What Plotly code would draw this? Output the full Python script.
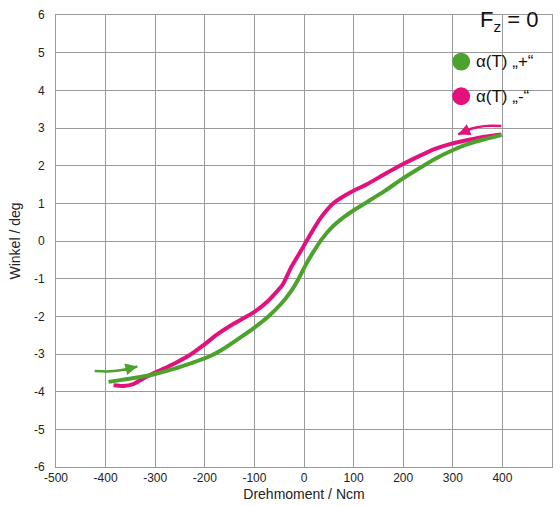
import plotly.graph_objects as go

# Torque (Ncm) vs. angle (deg) for the two loading directions
plus_torque = [-394, -364, -330, -300, -261, -227, -190, -162, -128, -100, -73, -47,
               -26, -10, 4, 17, 36, 56, 81, 102, 129, 163, 196, 230, 263, 296, 330, 364, 398]
plus_angle = [-3.74, -3.68, -3.61, -3.53, -3.39, -3.24, -3.06, -2.86, -2.56, -2.30, -2.02, -1.68,
              -1.33, -0.98, -0.62, -0.33, 0.05, 0.36, 0.64, 0.83, 1.05, 1.33, 1.63, 1.91, 2.17, 2.39, 2.57, 2.70, 2.81]

minus_torque = [-384, -364, -343, -323, -295, -261, -227, -200, -175, -141, -100, -73, -43,
                -36, -26, -13, 0, 14, 34, 61, 95, 129, 163, 196, 230, 263, 296, 330, 364, 398]
minus_angle = [-3.83, -3.85, -3.79, -3.64, -3.46, -3.25, -3.00, -2.74, -2.48, -2.19, -1.88, -1.60, -1.16,
               -0.98, -0.70, -0.41, -0.12, 0.20, 0.62, 1.02, 1.30, 1.52, 1.78, 2.02, 2.24, 2.44, 2.58, 2.68, 2.77, 2.83]

# Direction arrows
plus_arrow_torque = [-422, -391, -364, -336]
plus_arrow_angle = [-3.45, -3.46, -3.42, -3.33]
minus_arrow_torque = [398, 364, 337, 311]
minus_arrow_angle = [3.05, 3.05, 2.98, 2.83]

x_ticks = [-500, -400, -300, -200, -100, 0, 100, 200, 300, 400, 500]
y_ticks = [-6, -5, -4, -3, -2, -1, 0, 1, 2, 3, 4, 5, 6]

GREEN = "#4ca22c"
MAGENTA = "#e3117c"
FONT = "Liberation Sans, Arial, sans-serif"

W, H = 560, 506
L, R, T, B = 56, 7, 15, 35
pw, ph = W - L - R, H - T - B


def px(xp):
    return (xp - L) / pw


def py(yp):
    return (H - B - yp) / ph


fig = go.Figure()

fig.add_trace(go.Scatter(x=minus_torque, y=minus_angle, mode="lines",
                         line=dict(color=MAGENTA, width=4, shape="spline", smoothing=0.6),
                         showlegend=False, hoverinfo="skip"))
fig.add_trace(go.Scatter(x=plus_torque, y=plus_angle, mode="lines",
                         line=dict(color=GREEN, width=4, shape="spline", smoothing=0.6),
                         showlegend=False, hoverinfo="skip"))

# direction arrows: curved shaft plus a swept head on the last segment
for xs, ys, col in [(plus_arrow_torque, plus_arrow_angle, GREEN),
                    (minus_arrow_torque, minus_arrow_angle, MAGENTA)]:
    fig.add_trace(go.Scatter(x=xs, y=ys, mode="lines",
                             line=dict(color=col, width=2.5, shape="spline"),
                             showlegend=False, hoverinfo="skip"))
    fig.add_annotation(x=xs[-1], y=ys[-1], ax=xs[-2], ay=ys[-2],
                       xref="x", yref="y", axref="x", ayref="y",
                       showarrow=True, arrowhead=2, arrowsize=0.95, arrowwidth=2.5,
                       arrowcolor=col, text="")

# legend block
fig.add_annotation(x=px(541), y=py(21), xref="paper", yref="paper",
                   xanchor="right", yanchor="middle", showarrow=False,
                   text="F<sub>z</sub> = 0", font=dict(family=FONT, size=22, color="#111"))
for yc, col, label in [(62, GREEN, "α(T) „+“"), (97, MAGENTA, "α(T) „-“")]:
    r = 9
    fig.add_shape(type="circle", xref="paper", yref="paper",
                  x0=px(462 - r), x1=px(462 + r), y0=py(yc + r), y1=py(yc - r),
                  fillcolor=col, line=dict(width=0))
    fig.add_annotation(x=px(475), y=py(yc), xref="paper", yref="paper",
                       xanchor="left", yanchor="middle", showarrow=False,
                       text=label, font=dict(family=FONT, size=17, color="#111"))

fig.update_layout(
    width=W, height=H,
    margin=dict(l=L, r=R, t=T, b=B),
    paper_bgcolor="white", plot_bgcolor="white",
    font=dict(family=FONT, size=12, color="#222"),
    showlegend=False,
)
fig.update_xaxes(range=[-500, 500], tickvals=x_ticks, ticktext=[str(v) for v in x_ticks],
                 showgrid=True, gridcolor="#9a9a9a", gridwidth=1,
                 showline=True, linecolor="#9a9a9a", linewidth=1, mirror=True,
                 zeroline=False, ticks="", ticklabelstandoff=0,
                 title=dict(text="Drehmoment / Ncm", font=dict(size=14), standoff=4))
fig.update_yaxes(range=[-6, 6], tickvals=y_ticks, ticktext=[str(v) for v in y_ticks],
                 showgrid=True, gridcolor="#9a9a9a", gridwidth=1,
                 showline=True, linecolor="#9a9a9a", linewidth=1, mirror=True,
                 zeroline=False, ticks="", ticklabelstandoff=8,
                 title=dict(text="Winkel / deg", font=dict(size=14), standoff=10))

fig.write_html("out.html")
